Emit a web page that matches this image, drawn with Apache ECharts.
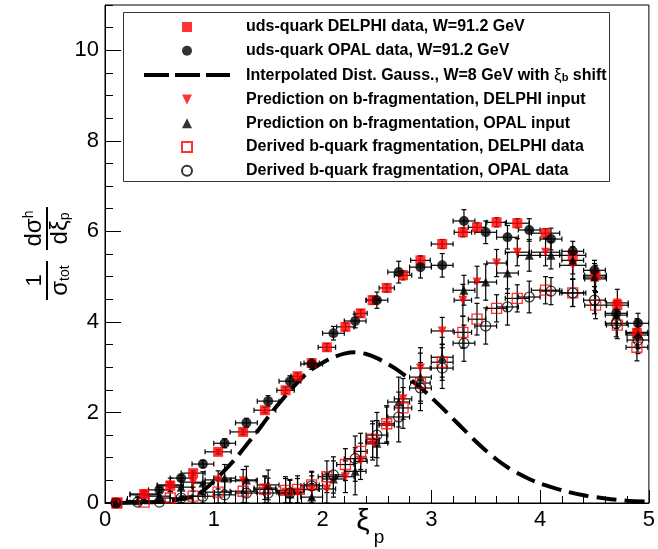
<!DOCTYPE html>
<html>
<head>
<meta charset="utf-8">
<script src="https://cdn.jsdelivr.net/npm/echarts@6/dist/echarts.min.js"></script>
<style>
html, body { margin: 0; padding: 0; background: #ffffff; }
#chart { width: 658px; height: 549px; }
</style>
</head>
<body>
<div id="chart"></div>
<script>
// xi_p bin centres
const delphiXi = [0.11, 0.36, 0.60, 0.81, 1.04, 1.27, 1.47, 1.66, 1.77, 1.90, 2.04, 2.21, 2.35, 2.46, 2.59, 2.74, 2.90, 3.10, 3.29, 3.42, 3.60, 3.79, 4.05, 4.30, 4.51, 4.71, 4.89];
const delphiXiErr = [0.11, 0.13, 0.12, 0.11, 0.12, 0.12, 0.10, 0.08, 0.06, 0.07, 0.08, 0.08, 0.06, 0.06, 0.07, 0.08, 0.09, 0.10, 0.08, 0.08, 0.09, 0.11, 0.13, 0.12, 0.10, 0.10, 0.10];
const opalXi = [0.1, 0.3, 0.5, 0.7, 0.9, 1.1, 1.3, 1.5, 1.7, 1.9, 2.1, 2.3, 2.5, 2.7, 2.9, 3.1, 3.3, 3.5, 3.7, 3.9, 4.1, 4.3, 4.5, 4.7, 4.9];
const opalUdsXi = [0.1, 0.5, 0.7, 0.9, 1.1, 1.3, 1.5, 1.7, 1.9, 2.1, 2.3, 2.5, 2.7, 2.9, 3.1, 3.3, 3.5, 3.7, 3.9, 4.1, 4.3, 4.5, 4.7, 4.9];

// uds-quark data at W = 91.2 GeV
const delphiUds = [0.00, 0.20, 0.38, 0.66, 1.13, 1.57, 2.05, 2.49, 2.80, 3.09, 3.44, 3.89, 4.19, 4.48, 4.75, 5.03, 5.36, 5.72, 5.98, 6.09, 6.20, 6.18, 5.96, 5.47, 5.03, 4.37, 3.75];
const delphiUdsErr = [0.02, 0.03, 0.04, 0.05, 0.05, 0.06, 0.06, 0.07, 0.07, 0.07, 0.08, 0.08, 0.08, 0.09, 0.09, 0.10, 0.10, 0.10, 0.10, 0.10, 0.10, 0.10, 0.10, 0.10, 0.10, 0.10, 0.10];
const opalUds = [0.00, 0.29, 0.55, 0.86, 1.32, 1.77, 2.25, 2.69, 3.07, 3.75, 4.02, 4.48, 5.10, 5.21, 5.25, 6.23, 5.98, 5.87, 6.03, 5.83, 5.56, 5.14, 4.19, 3.97];
const opalUdsErr = [0.03, 0.05, 0.06, 0.08, 0.10, 0.10, 0.12, 0.12, 0.12, 0.15, 0.15, 0.18, 0.24, 0.24, 0.26, 0.25, 0.25, 0.26, 0.25, 0.24, 0.22, 0.22, 0.22, 0.22];

// interpolated distorted Gaussian, W = 8 GeV, shifted by xi_b
const gaussXi = [0.1, 0.3, 0.5, 0.7, 0.8, 0.9, 1.0, 1.1, 1.2, 1.3, 1.4, 1.5, 1.6, 1.7, 1.8, 1.9, 2.0, 2.1, 2.2, 2.3, 2.4, 2.5, 2.6, 2.7, 2.8, 2.9, 3.0, 3.1, 3.2, 3.3, 3.4, 3.5, 3.6, 3.7, 3.8, 3.9, 4.0, 4.2, 4.4, 4.6, 4.8, 5.0];
const gaussVal = [0.00, 0.01, 0.03, 0.08, 0.14, 0.27, 0.48, 0.72, 0.98, 1.28, 1.58, 1.90, 2.20, 2.48, 2.74, 2.95, 3.10, 3.22, 3.30, 3.33, 3.29, 3.20, 3.07, 2.92, 2.74, 2.55, 2.33, 2.10, 1.86, 1.62, 1.38, 1.16, 0.96, 0.79, 0.65, 0.53, 0.43, 0.28, 0.17, 0.10, 0.05, 0.03];

// predictions on b-fragmentation
const predDelphi = [0.00, 0.18, 0.40, 0.46, 0.51, 0.49, 0.33, 0.24, 0.24, 0.30, 0.31, 0.58, 0.92, 1.35, 1.72, 2.30, 2.98, 3.80, 4.48, 4.88, 5.30, 5.54, 5.54, 5.25, 4.95, 4.42, 3.77];
const predDelphiErr = [0.03, 0.10, 0.15, 0.20, 0.20, 0.25, 0.25, 0.30, 0.30, 0.30, 0.35, 0.35, 0.40, 0.40, 0.40, 0.45, 0.45, 0.30, 0.35, 0.35, 0.30, 0.30, 0.30, 0.30, 0.30, 0.30, 0.30];
const predOpal = [0.00, 0.05, 0.15, 0.35, 0.44, 0.55, 0.51, 0.40, 0.20, 0.13, 0.53, 0.70, 1.32, 2.23, 2.78, 3.22, 4.70, 4.88, 5.08, 5.47, 5.47, 5.36, 4.99, 4.15, 3.71];
const predOpalErr = [0.05, 0.10, 0.15, 0.20, 0.25, 0.30, 0.30, 0.33, 0.30, 0.30, 0.40, 0.52, 0.50, 0.55, 0.53, 0.44, 0.33, 0.40, 0.45, 0.35, 0.30, 0.30, 0.30, 0.30, 0.30];

// derived b-quark fragmentation
const derivDelphi = [0.00, 0.02, 0.11, 0.15, 0.24, 0.26, 0.30, 0.28, 0.30, 0.40, 0.58, 0.85, 1.14, 1.41, 1.75, 2.10, 2.65, 3.11, 3.77, 4.06, 4.30, 4.52, 4.70, 4.64, 4.37, 3.93, 3.44];
const derivDelphiErr = [0.03, 0.10, 0.15, 0.20, 0.25, 0.25, 0.30, 0.30, 0.30, 0.30, 0.35, 0.35, 0.40, 0.40, 0.40, 0.45, 0.45, 0.40, 0.35, 0.35, 0.30, 0.30, 0.30, 0.30, 0.30, 0.30, 0.30];
const derivOpal = [0.00, 0.02, 0.02, 0.11, 0.15, 0.18, 0.22, 0.22, 0.22, 0.38, 0.62, 0.98, 1.50, 1.90, 2.54, 2.98, 3.53, 3.91, 4.33, 4.55, 4.68, 4.64, 4.48, 3.97, 3.60];
const derivOpalErr = [0.05, 0.10, 0.15, 0.20, 0.25, 0.30, 0.30, 0.33, 0.30, 0.30, 0.40, 0.50, 0.50, 0.55, 0.50, 0.45, 0.40, 0.40, 0.40, 0.35, 0.30, 0.30, 0.30, 0.30, 0.30];

const xTicks = [0, 1, 2, 3, 4, 5];
const yTicks = [0, 2, 4, 6, 8, 10];

const names = [
  'uds-quark DELPHI data, W=91.2 GeV',
  'uds-quark OPAL data, W=91.2 GeV',
  'Interpolated Dist. Gauss., W=8 GeV with \u03be_b shift',
  'Prediction on b-fragmentation, DELPHI input',
  'Prediction on b-fragmentation, OPAL input',
  'Derived b-quark fragmentation, DELPHI data',
  'Derived b-quark fragmentation, OPAL data'
];

const FONT = '"Liberation Sans", Arial, Helvetica, sans-serif';
const RED = '#ff0000';
const BLACK = '#000000';
const HOLLOW = 'rgba(255,255,255,0)';

// fixed-aspect legend glyphs
const ICON_SQUARE = 'path://M0,0H10V10H0Z';
const ICON_UP = 'path://M5,0L10,10H0Z';
const ICON_DOWN = 'path://M0,0H10L5,10Z';

function pairs(xs, ys) { return xs.map((x, i) => [x, ys[i]]); }

function errorBars(xs, ys, xe, ye) {
  return {
    type: 'custom',
    silent: true,
    clip: true,
    z: 2,
    data: xs.map((x, i) => [x, ys[i], xe[i], ye[i]]),
    encode: { x: 0, y: 1 },
    renderItem(params, api) {
      const x = api.value(0), y = api.value(1), dx = api.value(2), dy = api.value(3);
      const l = api.coord([x - dx, y]);
      const r = api.coord([x + dx, y]);
      const b = api.coord([x, Math.max(y - dy, 0)]);
      const t = api.coord([x, y + dy]);
      const c = 2.5;
      const st = { stroke: BLACK, lineWidth: 1.2 };
      const seg = (x1, y1, x2, y2) => ({ type: 'line', shape: { x1, y1, x2, y2 }, style: st });
      return {
        type: 'group',
        children: [
          seg(l[0], l[1], r[0], r[1]),
          seg(l[0], l[1] - c, l[0], l[1] + c),
          seg(r[0], r[1] - c, r[0], r[1] + c),
          seg(b[0], b[1], t[0], t[1]),
          seg(t[0] - c, t[1], t[0] + c, t[1]),
          seg(b[0] - c, b[1], b[0] + c, b[1])
        ]
      };
    }
  };
}

function markers(name, xs, ys, symbol, size, style, rotate) {
  return {
    name, type: 'scatter', symbol, symbolSize: size, symbolRotate: rotate || 0,
    clip: false, z: 3, itemStyle: style, data: pairs(xs, ys)
  };
}

const delphiSeriesXiErr = delphiXiErr;
const opalXiErr = opalXi.map(() => 0.1);
const opalUdsXiErr = opalUdsXi.map(() => 0.1);

const chart = echarts.init(document.getElementById('chart'), null, { renderer: 'canvas' });

const option = {
  animation: false,
  backgroundColor: '#ffffff',
  grid: { left: 105, right: 7, top: 5, bottom: 46, show: true, borderColor: BLACK, borderWidth: 1, backgroundColor: 'transparent' },
  xAxis: {
    type: 'value', min: xTicks[0], max: xTicks[xTicks.length - 1], interval: 1,
    axisLine: { lineStyle: { color: BLACK, width: 1 } },
    axisTick: { inside: true, length: 13, lineStyle: { color: BLACK, width: 1 } },
    minorTick: { show: true, splitNumber: 5, length: 7, lineStyle: { color: BLACK, width: 1 } },
    splitLine: { show: false },
    axisLabel: { color: BLACK, fontSize: 22, fontFamily: FONT, margin: 6 }
  },
  yAxis: [
    {
      type: 'value', min: 0, max: 11, interval: 0.5, position: 'left',
      axisLine: { lineStyle: { color: BLACK, width: 1 } },
      axisTick: { inside: true, length: 8, lineStyle: { color: BLACK, width: 1 } },
      axisLabel: { show: false },
      splitLine: { show: false }
    },
    {
      type: 'value', min: 0, max: 11, interval: 2, position: 'left',
      axisLine: { show: false },
      axisTick: { inside: true, length: 16, lineStyle: { color: BLACK, width: 1 } },
      axisLabel: {
        color: BLACK, fontSize: 22, fontFamily: FONT, margin: 6, showMaxLabel: false,
        formatter: v => (yTicks.indexOf(v) >= 0 ? String(v) : '')
      },
      splitLine: { show: false }
    }
  ],
  legend: {
    orient: 'vertical', left: 142, top: 19, padding: 0,
    itemWidth: 86, itemHeight: 10, itemGap: 7.8,
    symbolKeepAspect: true,
    selectedMode: false,
    data: [
      { name: names[0], icon: ICON_SQUARE },
      { name: names[1] },
      { name: names[2], itemStyle: { color: HOLLOW, borderWidth: 0, opacity: 0 }, lineStyle: { type: [25, 6], width: 4, color: BLACK, opacity: 1 } },
      { name: names[3], icon: ICON_DOWN, symbolRotate: 0 },
      { name: names[4], icon: ICON_UP },
      { name: names[5], icon: ICON_SQUARE },
      { name: names[6] }
    ],
    formatter: function (name) {
      if (name === names[2]) {
        return '{t|Interpolated Dist. Gauss., W=8 GeV with }{x|\u03be}{s|b}{t| shift}';
      }
      return '{t|' + name + '}';
    },
    textStyle: {
      padding: [0, 0, 0, 11],
      rich: {
        t: { fontFamily: FONT, fontWeight: 'bold', fontSize: 16, lineHeight: 17, color: BLACK },
        x: { fontFamily: FONT, fontWeight: 'normal', fontSize: 17, lineHeight: 17, color: BLACK },
        s: { fontFamily: FONT, fontWeight: 'bold', fontSize: 11, lineHeight: 11, verticalAlign: 'bottom', color: BLACK }
      }
    }
  },
  graphic: [
    {
      type: 'rect', z: -1,
      shape: { x: 123.5, y: 12.5, width: 486, height: 169 },
      style: { fill: '#ffffff', stroke: '#333333', lineWidth: 1 }
    },
    {
      type: 'group', x: 47, y: 300, rotation: Math.PI / 2,
      children: [
        { type: 'rect', shape: { x: 0, y: -1, width: 39, height: 2 }, style: { fill: BLACK } },
        { type: 'text', x: 19.5, y: -12, style: { text: '1', font: '22px ' + FONT, fill: BLACK, align: 'center', verticalAlign: 'middle' } },
        {
          type: 'text', x: 19.5, y: 13,
          style: {
            text: '{m|\u03c3}{s|tot}', align: 'center', verticalAlign: 'middle',
            rich: {
              m: { fontFamily: FONT, fontSize: 24, lineHeight: 24, fill: BLACK },
              s: { fontFamily: FONT, fontSize: 14, lineHeight: 14, verticalAlign: 'bottom', fill: BLACK }
            }
          }
        },
        { type: 'rect', shape: { x: 50, y: -1, width: 43, height: 2 }, style: { fill: BLACK } },
        {
          type: 'text', x: 71.5, y: -13,
          style: {
            text: '{m|d\u03c3}{s|h}', align: 'center', verticalAlign: 'middle',
            rich: {
              m: { fontFamily: FONT, fontSize: 24, lineHeight: 24, fill: BLACK },
              s: { fontFamily: FONT, fontSize: 14, lineHeight: 14, verticalAlign: 'top', fill: BLACK }
            }
          }
        },
        {
          type: 'text', x: 71.5, y: 13,
          style: {
            text: '{m|d\u03be}{s|p}', align: 'center', verticalAlign: 'middle',
            rich: {
              m: { fontFamily: FONT, fontSize: 24, lineHeight: 24, fill: BLACK },
              s: { fontFamily: FONT, fontSize: 14, lineHeight: 14, verticalAlign: 'bottom', fill: BLACK }
            }
          }
        }
      ]
    },
    {
      type: 'text', x: 363, y: 522,
      style: { text: '\u03be', font: '30px ' + FONT, fill: BLACK, align: 'center', verticalAlign: 'middle' }
    },
    {
      type: 'text', x: 379, y: 538,
      style: { text: 'p', font: '19px ' + FONT, fill: BLACK, align: 'center', verticalAlign: 'middle' }
    }
  ],
  series: [
    errorBars(delphiXi, delphiUds, delphiSeriesXiErr, delphiUdsErr),
    markers(names[0], delphiXi, delphiUds, 'rect', 10, { color: RED }),
    errorBars(opalUdsXi, opalUds, opalUdsXiErr, opalUdsErr),
    markers(names[1], opalUdsXi, opalUds, 'circle', 10, { color: BLACK }),
    {
      name: names[2], type: 'line', data: pairs(gaussXi, gaussVal), smooth: 0.3,
      symbol: 'none', z: 3, clip: true,
      itemStyle: { color: BLACK },
      lineStyle: { color: BLACK, width: 4, type: [20, 8] }
    },
    errorBars(delphiXi, predDelphi, delphiSeriesXiErr, predDelphiErr),
    markers(names[3], delphiXi, predDelphi, 'triangle', 9, { color: RED }, 180),
    errorBars(opalXi, predOpal, opalXiErr, predOpalErr),
    markers(names[4], opalXi, predOpal, 'triangle', 9, { color: BLACK }),
    errorBars(delphiXi, derivDelphi, delphiSeriesXiErr, derivDelphiErr),
    markers(names[5], delphiXi, derivDelphi, 'rect', 10, { color: HOLLOW, borderColor: RED, borderWidth: 1.3 }),
    errorBars(opalXi, derivOpal, opalXiErr, derivOpalErr),
    markers(names[6], opalXi, derivOpal, 'circle', 10, { color: HOLLOW, borderColor: BLACK, borderWidth: 1.2 })
  ]
};

chart.setOption(option);
</script>
</body>
</html>
